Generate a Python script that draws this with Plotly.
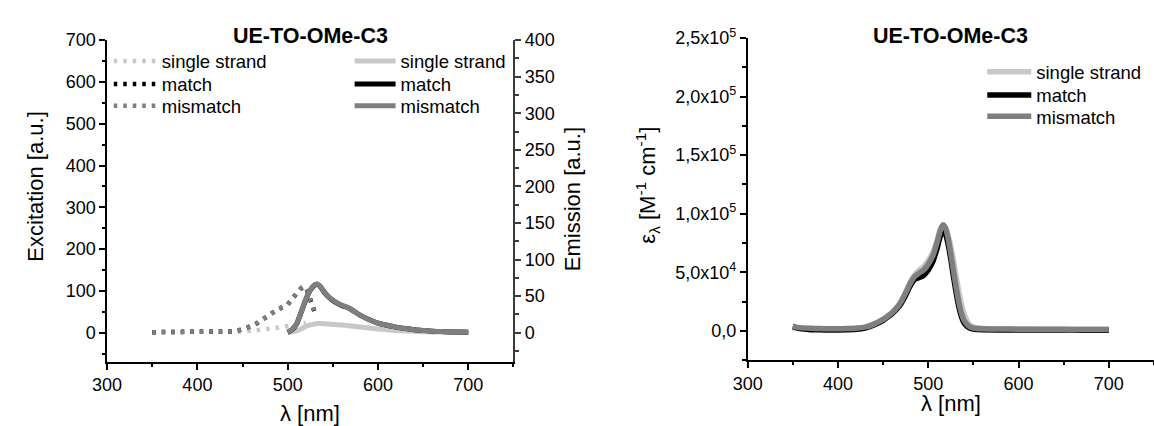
import plotly.graph_objects as go

# ---------------- data ----------------
series_names = ["single strand", "match", "mismatch"]
colors = ["#c8c8c8", "#000000", "#7f7f7f"]

# Excitation (left axis)
wl_exc_ss = [350, 360, 370, 380, 390, 400, 410, 420, 430, 440, 450, 460, 470, 480, 490, 500, 510, 520]
exc_ss = [1, 1, 0.5, 1, 1, 0.5, 1, 1, 1.5, 2, 3, 4.5, 6.5, 9, 12, 16, 19.5, 23]
wl_exc = [350, 360, 370, 380, 390, 400, 410, 420, 430, 440, 445, 450, 455, 460, 465, 470, 475, 480,
          485, 490, 495, 500, 505, 510, 515, 518, 521, 524, 527, 530]
exc_match = [1, 1, 1, 1, 1, 1, 1, 1, 1.5, 3, 5, 8, 11.5, 15.5, 21, 28, 36, 45,
             52, 57, 61, 67, 81, 95, 106, 110, 104, 86, 64, 48]
exc_mismatch = [1, 1, 1, 1, 1, 1, 1, 1, 1.5, 3, 5, 8, 12, 16, 21.5, 28.5, 36.5, 45,
                52.5, 57.5, 61.5, 67.5, 82, 96, 107, 111, 104, 85, 63, 47]

# Emission (right axis)
wl_em = [500, 505, 510, 515, 520, 525, 530, 533, 536, 540, 545, 550, 555, 560, 565, 570, 575, 580,
         590, 600, 610, 620, 630, 640, 650, 660, 670, 680, 690, 700]
em_ss = [0, 1, 2.5, 5, 8.5, 10.5, 12, 12.4, 12.4, 12.1, 11.7, 11.2, 10.8, 10.3, 9.8, 9.2, 8.5, 7.8,
         6.3, 4.8, 3.8, 3, 2.3, 1.8, 1.3, 1, 0.7, 0.5, 0.4, 0.3]
em_match = [0.5, 4, 12, 28, 45, 58, 65, 66, 63, 56, 49, 44, 40, 37, 35, 32, 28, 24,
            18, 13, 10, 7.5, 5.5, 4, 3, 2, 1.5, 1, 0.7, 0.5]
em_mismatch = [0.8, 4.5, 12.5, 28.5, 45.5, 58.5, 65.5, 66.5, 63.5, 56.5, 49.5, 44.5, 40.5, 37.5, 35, 32, 28, 24,
               18, 13, 10, 7.5, 5.5, 4, 3, 2, 1.5, 1, 0.7, 0.5]

# Absorption (extinction coefficient)
wl_abs = [350, 355, 360, 370, 380, 390, 400, 410, 420, 430, 440, 450, 455, 460, 465, 470, 475, 480,
          485, 490, 495, 500, 505, 510, 513, 516, 519, 522, 525, 528, 531, 534, 537, 540, 545, 550,
          560, 580, 600, 620, 640, 660, 680, 700]
abs_ss = [3000, 2600, 2300, 2000, 1800, 1700, 1700, 1800, 2200, 3200, 6000, 10000, 12800, 16000, 20000,
          25500, 33000, 41500, 48000, 52000, 55000, 60000, 67000, 78000, 86000, 89500, 88000, 82000,
          72000, 60000, 46000, 33000, 22000, 14000, 6000, 3200, 2000, 1700, 1600, 1500, 1500, 1400, 1400, 1400]
abs_match = [3500, 2500, 1800, 1000, 900, 800, 800, 900, 1300, 2500, 5000, 9000, 11800, 14800, 18500,
             23500, 30500, 38500, 44000, 45500, 47500, 52000, 59000, 71000, 80000, 85500, 83000, 74000,
             61000, 46000, 32000, 20000, 11500, 6500, 2800, 1500, 900, 800, 800, 700, 700, 700, 500, 600]
abs_mismatch = [4000, 3000, 2600, 2200, 2000, 1900, 1900, 2000, 2300, 3200, 5800, 9800, 12500, 15500, 19500,
                25000, 32500, 40500, 46500, 49500, 52000, 57000, 64000, 76000, 85000, 90500, 88000, 79000,
                66000, 51000, 37000, 24000, 14500, 8500, 4000, 2500, 1800, 1600, 1500, 1400, 1400, 1300, 1300, 1300]

abs_tickvals = [0, 50000, 100000, 150000, 200000, 250000]
abs_ticktext = ["0,0", "5,0x10<sup>4</sup>", "1,0x10<sup>5</sup>", "1,5x10<sup>5</sup>",
                "2,0x10<sup>5</sup>", "2,5x10<sup>5</sup>"]

title_text = "UE-TO-OMe-C3"

# ---------------- figure ----------------
W, H = 1154, 426
FONT = "Liberation Sans, Arial, sans-serif"
LEG_FONT = 18.5


def px_x(p):
    return p / W


def px_y(p):
    return (H - p) / H


fig = go.Figure()

# one legend per entry so that each row sits exactly where the reference puts it
leg_ids = ["legend"] + [f"legend{i}" for i in range(2, 10)]

exc_sets = [(wl_exc_ss, exc_ss), (wl_exc, exc_match), (wl_exc, exc_mismatch)]
for k, (name, col, (wx, vy)) in enumerate(zip(series_names, colors, exc_sets)):
    fig.add_trace(go.Scatter(x=wx, y=vy, mode="lines", name=name, legend=leg_ids[k], showlegend=True,
                             line=dict(color=col, width=4.5, dash="3.5px,6px"),
                             xaxis="x", yaxis="y"))

em_sets = [em_ss, em_match, em_mismatch]
for k, (name, col, vy) in enumerate(zip(series_names, colors, em_sets)):
    fig.add_trace(go.Scatter(x=wl_em, y=vy, mode="lines", name=name, legend=leg_ids[3 + k], showlegend=True,
                             line=dict(color=col, width=5, shape="spline", smoothing=0.6),
                             xaxis="x", yaxis="y2"))

abs_sets = [abs_ss, abs_match, abs_mismatch]
for k, (name, col, vy) in enumerate(zip(series_names, colors, abs_sets)):
    fig.add_trace(go.Scatter(x=wl_abs, y=vy, mode="lines", name=name, legend=leg_ids[6 + k], showlegend=True,
                             line=dict(color=col, width=5.5, shape="spline", smoothing=0.6),
                             xaxis="x2", yaxis="y3"))

axis_common = dict(showgrid=False, zeroline=False, showline=True, linecolor="black", linewidth=1.5,
                   ticks="outside", ticklen=6, tickwidth=1.5, tickcolor="black",
                   tickfont=dict(family=FONT, size=18, color="black"))

fig.update_layout(
    width=W, height=H, margin=dict(l=0, r=0, t=0, b=0),
    paper_bgcolor="white", plot_bgcolor="white", showlegend=True,
    font=dict(family=FONT, color="black"),
    xaxis=dict(domain=[px_x(93.3), px_x(505)], range=[300, 750], tick0=300, dtick=100, anchor="y",
               minor=dict(ticks="outside", ticklen=3.5, tickwidth=1.5, dtick=50, tick0=300, tickcolor="black"),
               **axis_common),
    yaxis=dict(domain=[px_y(360), px_y(29)], range=[-70, 700], tick0=0, dtick=100, anchor="x",
               minor=dict(ticks="outside", ticklen=3.5, tickwidth=1.5, dtick=50, tick0=0, tickcolor="black"),
               **axis_common),
    yaxis2=dict(overlaying="y", side="right", anchor="x", range=[-40, 400], tick0=0, dtick=50,
                minor=dict(ticks="outside", ticklen=3.5, tickwidth=1.5, dtick=25, tick0=0, tickcolor="#3c3c3c"),
                **{**axis_common, "linecolor": "#3c3c3c", "tickcolor": "#3c3c3c"}),
    xaxis2=dict(domain=[px_x(742.3), 1.0], range=[300, 750], tick0=300, dtick=100, anchor="y3",
                minor=dict(ticks="outside", ticklen=3.5, tickwidth=1.5, dtick=50, tick0=300, tickcolor="black"),
                **axis_common),
    yaxis3=dict(domain=[px_y(358.3), px_y(26.7)], range=[-25000, 250000], anchor="x2",
                tickmode="array", tickvals=abs_tickvals, ticktext=abs_ticktext,
                minor=dict(ticks="outside", ticklen=3.5, tickwidth=1.5, tickmode="linear", dtick=25000, tick0=0,
                           tickcolor="black"),
                **axis_common),
)

# legend placement: (left x px, row-centre y px, item width)
ROW_OFFSET = 21  # distance from legend top to the row centre for this font size
leg_pos = [
    (95, 52.3, 43), (95, 76, 43), (95, 98.3, 43),
    (339, 52.3, 41), (339, 76, 41), (339, 98.3, 41),
    (980, 63.3, 44), (980, 87.3, 44), (980, 109.3, 44),
]
for lid, (lx, cy, iw) in zip(leg_ids, leg_pos):
    fig.update_layout({lid: dict(x=px_x(lx), y=px_y(cy - ROW_OFFSET), xanchor="left", yanchor="top",
                                 bgcolor="rgba(0,0,0,0)", borderwidth=0, itemwidth=iw, visible=True,
                                 font=dict(family=FONT, size=LEG_FONT, color="black"))})

ann = [
    dict(text="<b>" + title_text + "</b>", x=px_x(299), y=px_y(25), font=dict(size=21.5)),
    dict(text="<b>" + title_text + "</b>", x=px_x(948), y=px_y(25), font=dict(size=21.5)),
    dict(text="λ [nm]", x=px_x(299), y=px_y(413), font=dict(size=22)),
    dict(text="λ [nm]", x=px_x(948), y=px_y(403), font=dict(size=22)),
    dict(text="Excitation [a.u.]", x=px_x(21), y=px_y(180), font=dict(size=22), textangle=-90),
    dict(text="Emission [a.u.]", x=px_x(565), y=px_y(193), font=dict(size=22), textangle=-90),
    dict(text="ε<sub>λ</sub> [M<sup>-1</sup> cm<sup>-1</sup>]", x=px_x(641), y=px_y(178),
         font=dict(size=22), textangle=-90),
]
for a in ann:
    a.update(xref="paper", yref="paper", showarrow=False, xanchor="center", yanchor="middle")
    a["font"].update(family=FONT, color="black")
    fig.add_annotation(**a)

fig.write_html("out.html")
